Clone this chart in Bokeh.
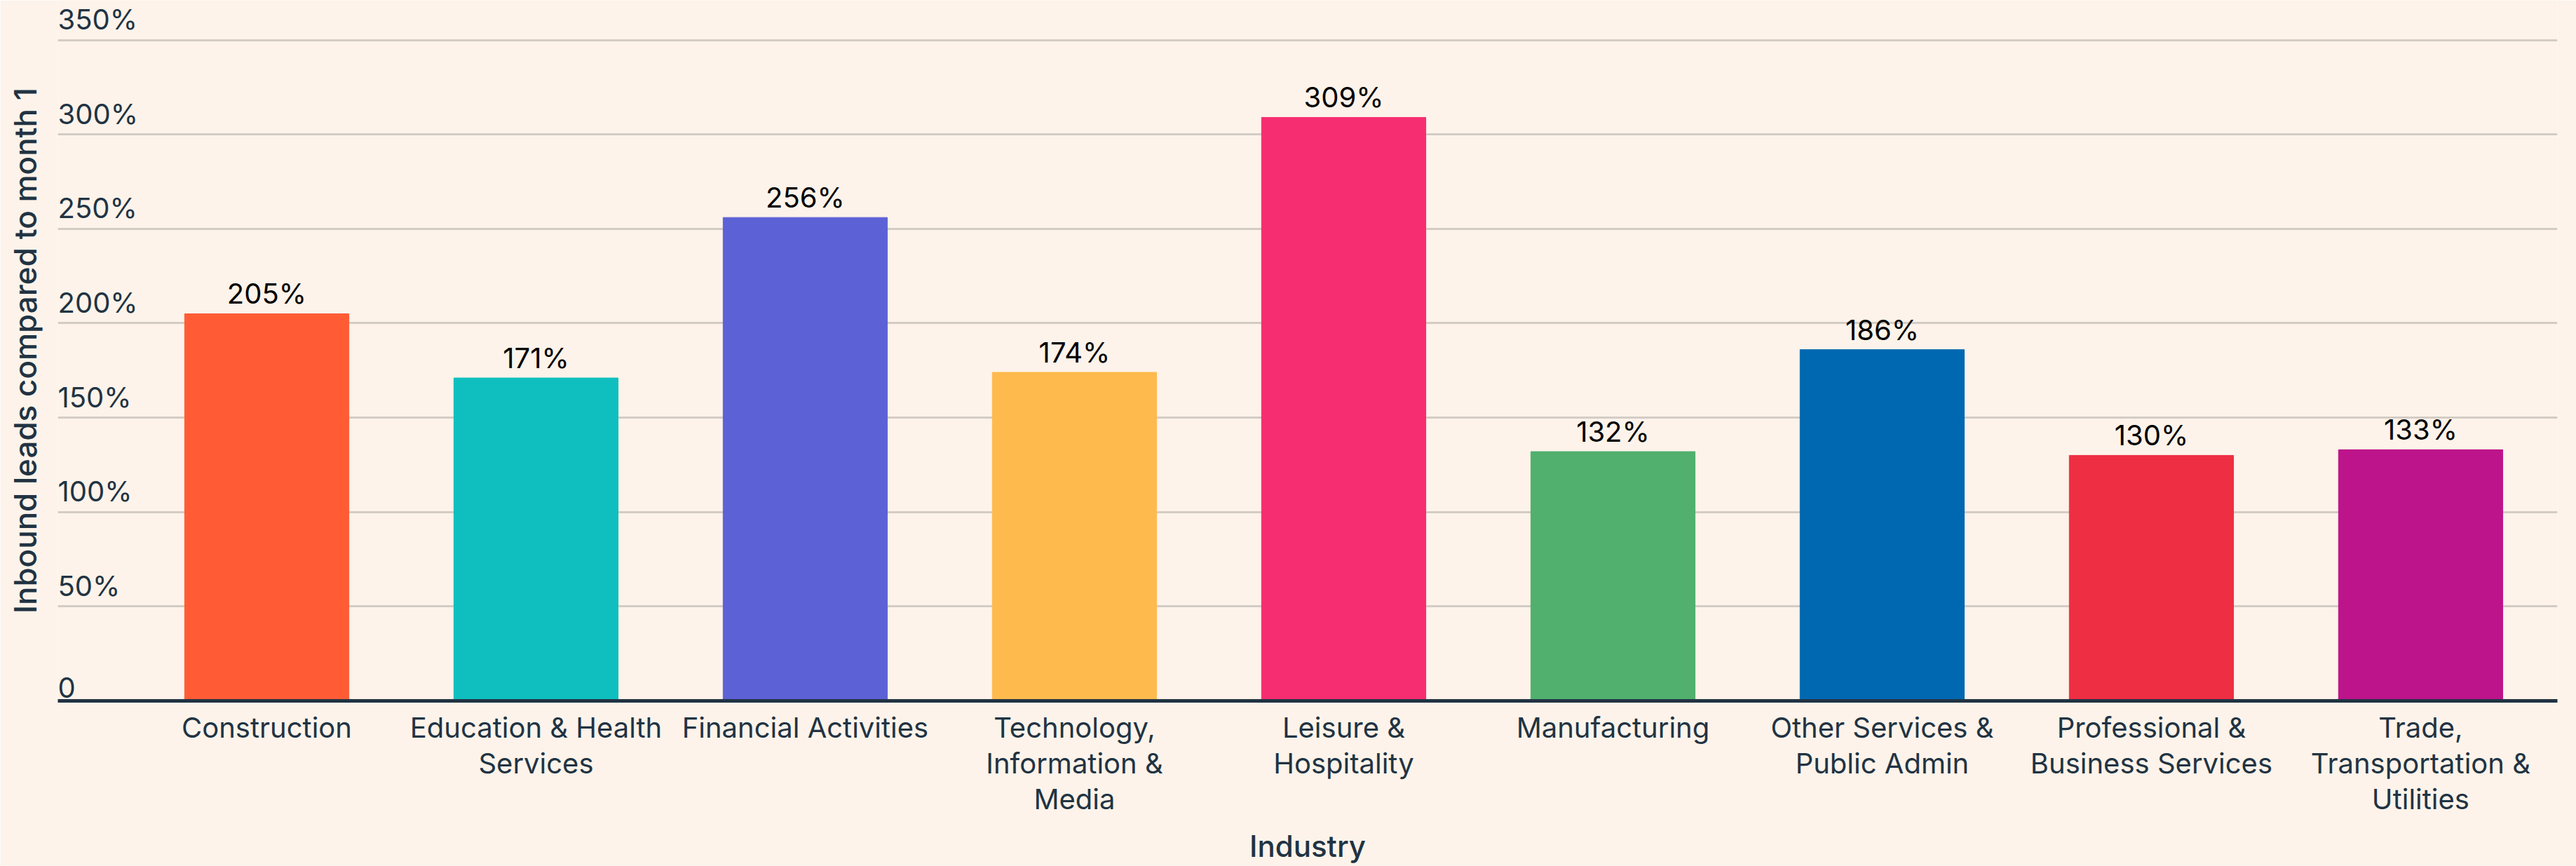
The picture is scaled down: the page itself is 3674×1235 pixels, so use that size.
from bokeh.plotting import figure
from bokeh.models import Range1d, FixedTicker, ColumnDataSource
from bokeh.core.properties import value
from bokeh.embed import file_html
from bokeh.resources import INLINE

# ---- data ----
industries = [
    "Construction",
    "Education & Health\nServices",
    "Financial Activities",
    "Technology,\nInformation &\nMedia",
    "Leisure &\nHospitality",
    "Manufacturing",
    "Other Services &\nPublic Admin",
    "Professional &\nBusiness Services",
    "Trade,\nTransportation &\nUtilities",
]
lead_growth_pct = [205, 171, 256, 174, 309, 132, 186, 130, 133]
bar_colors = ["#FF5C35", "#0FBFBF", "#5C62D6", "#FFBA4E", "#F62D71",
              "#51B06E", "#0068B1", "#EE2E43", "#BD148B"]
y_ticks = [0, 50, 100, 150, 200, 250, 300, 350]
y_tick_labels = ["0", "50%", "100%", "150%", "200%", "250%", "300%", "350%"]

# ---- style ----
BG = "#FDF3EA"
INK = "#213343"
FONT = "Inter"
TITLE_FONT = "Inter Medium"

positions = list(range(len(industries)))
x_start = -0.776
x_range = Range1d(x_start, 8.508)
y_range = Range1d(0, 371)

p = figure(width=3674, height=1235, x_range=x_range, y_range=y_range,
           output_backend="svg", toolbar_location=None,
           min_border_left=82, min_border_right=27,
           min_border_top=0, min_border_bottom=234)
p.background_fill_color = BG
p.border_fill_color = BG
p.outline_line_color = None

src = ColumnDataSource(dict(
    x=positions,
    top=lead_growth_pct,
    color=bar_colors,
    label=[f"{v}%" for v in lead_growth_pct],
))
p.vbar(x="x", top="top", bottom=0, width=0.61, color="color", source=src)
p.text(x="x", y="top", text="label", source=src,
       text_align="center", text_baseline="bottom", y_offset=-4,
       text_font=value(FONT), text_font_size="40px", text_color="#000000")

# y tick labels drawn inside the plot, left aligned above gridlines
ysrc = ColumnDataSource(dict(
    x=[x_start] * len(y_ticks),
    y=y_ticks,
    text=y_tick_labels,
))
p.text(x="x", y="y", text="text", source=ysrc,
       text_align="left", text_baseline="bottom", y_offset=-5,
       text_font=value(FONT), text_font_size="40px", text_color=INK)

# grid
p.xgrid.visible = False
p.ygrid.ticker = FixedTicker(ticks=y_ticks)
p.ygrid.grid_line_color = "#D3CCC6"
p.ygrid.grid_line_width = 3

# x axis
xa = p.xaxis[0]
xa.ticker = FixedTicker(ticks=positions)
xa.major_label_overrides = {i: lab for i, lab in zip(positions, industries)}
xa.major_label_text_font = FONT
xa.major_label_text_font_size = "40px"
xa.major_label_text_color = INK
xa.major_label_text_line_height = 1.05
xa.major_label_standoff = 7
xa.major_tick_line_color = None
xa.minor_tick_line_color = None
xa.axis_line_color = INK
xa.axis_line_width = 5
xa.axis_label = "Industry"
xa.axis_label_text_font = TITLE_FONT
xa.axis_label_text_font_size = "42px"
xa.axis_label_text_font_style = "normal"
xa.axis_label_text_line_height = 0.8
xa.axis_label_text_color = INK
xa.axis_label_standoff = 14

# y axis (title only)
ya = p.yaxis[0]
ya.ticker = FixedTicker(ticks=[])
ya.axis_line_color = None
ya.major_tick_line_color = None
ya.minor_tick_line_color = None
ya.major_label_standoff = 0
ya.axis_label = "Inbound leads compared to month 1"
ya.axis_label_text_font = TITLE_FONT
ya.axis_label_text_font_size = "44px"
ya.axis_label_text_font_style = "normal"
ya.axis_label_text_color = INK
ya.axis_label_standoff = 20

open("out.html", "w").write(file_html(p, INLINE))
